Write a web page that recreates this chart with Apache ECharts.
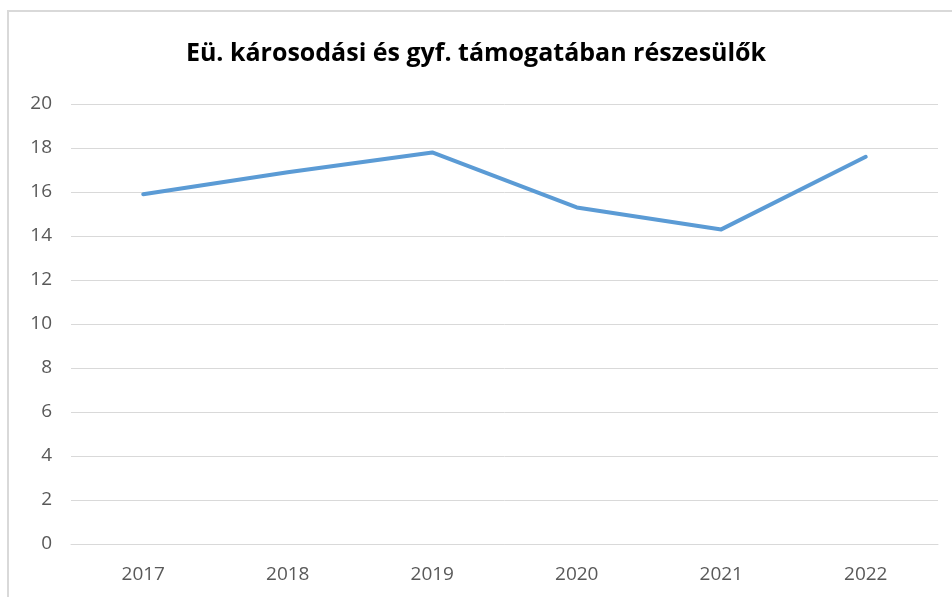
<!DOCTYPE html>
<html>
<head>
<meta charset="utf-8">
<script src="https://cdn.jsdelivr.net/npm/echarts@6/dist/echarts.min.js"></script>
<style>
  html, body { margin: 0; padding: 0; background: #fff; }
  #chart { width: 952px; height: 597px; }
</style>
</head>
<body>
<div id="chart"></div>
<script>
var titleText = 'Eü. károsodási és gyf. támogatában részesülők'
var years = ['2017', '2018', '2019', '2020', '2021', '2022']
var values = [15.9, 16.9, 17.8, 15.3, 14.3, 17.6]

var myChart = echarts.init(document.getElementById('chart'))
var option = {
  backgroundColor: '#fff',
  animation: false,
  graphic: [{
    type: 'rect',
    shape: { x: 8, y: 11, width: 1000, height: 700 },
    style: { fill: 'none', stroke: '#d9d9d9', lineWidth: 2 },
    silent: true
  }],
  title: {
    text: titleText,
    left: 'center',
    top: 36,
    textStyle: {
      fontFamily: 'Open Sans',
      fontSize: 25,
      fontWeight: 'bold',
      color: '#000'
    }
  },
  grid: {
    left: 71,
    right: 14,
    top: 104,
    bottom: 53
  },
  xAxis: {
    type: 'category',
    data: years,
    boundaryGap: true,
    axisLine: { lineStyle: { color: '#d9d9d9', width: 1 } },
    axisTick: { show: false },
    axisLabel: {
      margin: 21,
      fontFamily: 'Open Sans',
      fontSize: 19,
      color: '#595959'
    }
  },
  yAxis: {
    type: 'value',
    min: 0,
    max: 20,
    interval: 2,
    axisLine: { show: false },
    axisTick: { show: false },
    splitLine: { lineStyle: { color: '#d9d9d9', width: 1 } },
    axisLabel: {
      margin: 19,
      fontFamily: 'Open Sans',
      fontSize: 19,
      color: '#595959'
    }
  },
  series: [{
    type: 'line',
    data: values,
    showSymbol: false,
    lineStyle: { color: '#5b9bd5', width: 4, cap: 'round', join: 'round' },
    itemStyle: { color: '#5b9bd5' }
  }]
}
myChart.setOption(option)
</script>
</body>
</html>
